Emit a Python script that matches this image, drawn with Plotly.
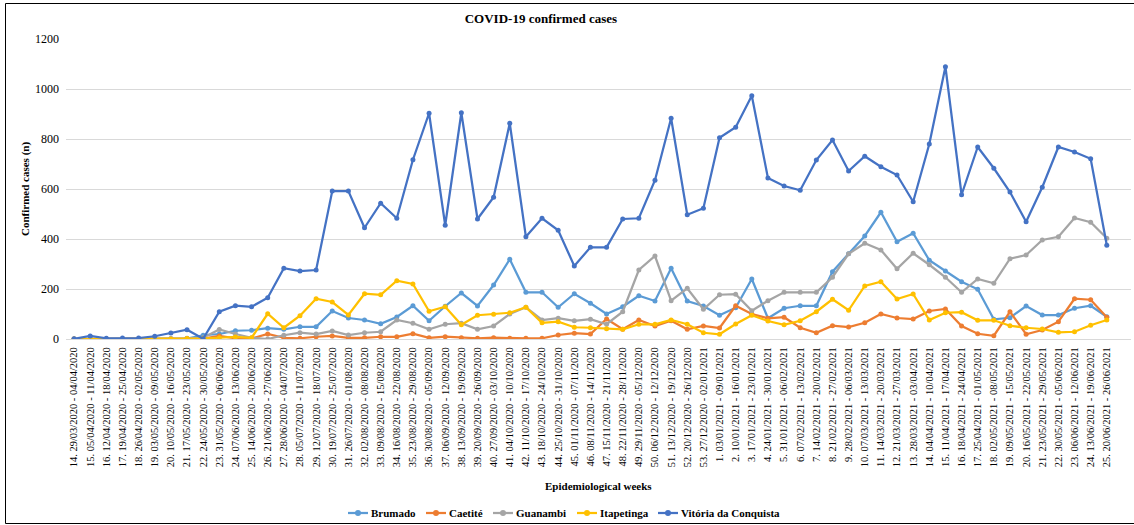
import plotly.graph_objects as go

# Epidemiological weeks (week number and date span)
weeks = [
    "14. 29/03/2020 - 04/04/2020", "15. 05/04/2020 - 11/04/2020", "16. 12/04/2020 - 18/04/2020",
    "17. 19/04/2020 - 25/04/2020", "18. 26/04/2020 - 02/05/2020", "19. 03/05/2020 - 09/05/2020",
    "20. 10/05/2020 - 16/05/2020", "21. 17/05/2020 - 23/05/2020", "22. 24/05/2020 - 30/05/2020",
    "23. 31/05/2020 - 06/06/2020", "24. 07/06/2020 - 13/06/2020", "25. 14/06/2020 - 20/06/2020",
    "26. 21/06/2020 - 27/06/2020", "27. 28/06/2020 - 04/07/2020", "28. 05/07/2020 - 11/07/2020",
    "29. 12/07/2020 - 18/07/2020", "30. 19/07/2020 - 25/07/2020", "31. 26/07/2020 - 01/08/2020",
    "32. 02/08/2020 - 08/08/2020", "33. 09/08/2020 - 15/08/2020", "34. 16/08/2020 - 22/08/2020",
    "35. 23/08/2020 - 29/08/2020", "36. 30/08/2020 - 05/09/2020", "37. 06/09/2020 - 12/09/2020",
    "38. 13/09/2020 - 19/09/2020", "39. 20/09/2020 - 26/09/2020", "40. 27/09/2020 - 03/10/2020",
    "41. 04/10/2020 - 10/10/2020", "42. 11/10/2020 - 17/10/2020", "43. 18/10/2020 - 24/10/2020",
    "44. 25/10/2020 - 31/10/2020", "45. 01/11/2020 - 07/11/2020", "46. 08/11/2020 - 14/11/2020",
    "47. 15/11/2020 - 21/11/2020", "48. 22/11/2020 - 28/11/2020", "49. 29/11/2020 - 05/12/2020",
    "50. 06/12/2020 - 12/12/2020", "51. 13/12/2020 - 19/12/2020", "52. 20/12/2020 - 26/12/2020",
    "53. 27/12/2020 - 02/01/2021", "1. 03/01/2021 - 09/01/2021", "2. 10/01/2021 - 16/01/2021",
    "3. 17/01/2021 - 23/01/2021", "4. 24/01/2021 - 30/01/2021", "5. 31/01/2021 - 06/02/2021",
    "6. 07/02/2021 - 13/02/2021", "7. 14/02/2021 - 20/02/2021", "8. 21/02/2021 - 27/02/2021",
    "9. 28/02/2021 - 06/03/2021", "10. 07/03/2021 - 13/03/2021", "11. 14/03/2021 - 20/03/2021",
    "12. 21/03/2021 - 27/03/2021", "13. 28/03/2021 - 03/04/2021", "14. 04/04/2021 - 10/04/2021",
    "15. 11/04/2021 - 17/04/2021", "16. 18/04/2021 - 24/04/2021", "17. 25/04/2021 - 01/05/2021",
    "18. 02/05/2021 - 08/05/2021", "19. 09/05/2021 - 15/05/2021", "20. 16/05/2021 - 22/05/2021",
    "21. 23/05/2021 - 29/05/2021", "22. 30/05/2021 - 05/06/2021", "23. 06/06/2021 - 12/06/2021",
    "24. 13/06/2021 - 19/06/2021", "25. 20/06/2021 - 26/06/2021",
]

brumado = [0, 0, 0, 0, 0, 0, 1, 2, 15, 20, 33, 35, 43, 39, 49, 49, 112, 84, 76, 61,
           88, 133, 73, 131, 184, 132, 216, 319, 187, 187, 127, 181, 143, 100, 129, 173, 152, 283, 152, 132,
           95, 125, 240, 83, 123, 133, 133, 269, 341, 412, 507, 389, 423, 315, 272, 229, 199, 79, 85, 132,
           96, 96, 123, 133, 89]

caetite = [0, 0, 0, 0, 0, 0, 0, 1, 2, 12, 3, 2, 20, 5, 3, 9, 12, 5, 5, 9,
           9, 21, 5, 9, 5, 3, 5, 3, 3, 3, 16, 23, 20, 80, 39, 76, 52, 73, 39, 52,
           44, 133, 100, 83, 87, 45, 25, 53, 48, 65, 100, 84, 80, 112, 120, 52, 21, 13, 109, 19,
           36, 69, 161, 157, 87]

guanambi = [0, 0, 0, 0, 0, 0, 2, 3, 5, 38, 20, 5, 0, 15, 25, 20, 32, 16, 25, 29,
            76, 63, 39, 59, 63, 39, 52, 100, 127, 76, 83, 73, 79, 59, 109, 276, 332, 153, 203, 119,
            177, 179, 113, 153, 187, 187, 187, 247, 341, 383, 356, 281, 343, 297, 247, 187, 240, 223, 321, 336,
            396, 409, 484, 467, 403]

itapetinga = [0, 0, 0, 0, 0, 0, 0, 2, 3, 5, 8, 5, 101, 45, 93, 161, 148, 96, 181, 177,
              233, 220, 111, 129, 57, 95, 99, 105, 127, 65, 69, 47, 45, 41, 39, 59, 59, 76, 59, 25,
              19, 60, 95, 72, 57, 73, 109, 159, 115, 212, 229, 160, 180, 76, 105, 107, 75, 75, 53, 45,
              40, 27, 29, 55, 76]

vitoria = [1, 12, 3, 4, 4, 11, 24, 37, 1, 109, 133, 129, 165, 283, 272, 276, 592, 592, 445, 543,
           483, 717, 903, 455, 905, 480, 567, 863, 409, 483, 435, 292, 367, 367, 480, 483, 635, 883, 497, 523,
           805, 847, 973, 644, 612, 595, 716, 796, 672, 731, 689, 656, 549, 780, 1089, 577, 768, 683, 588, 469,
           607, 768, 748, 721, 375]

series = [
    ("Brumado", brumado, "#5B9BD5"),
    ("Caetité", caetite, "#ED7D31"),
    ("Guanambi", guanambi, "#A5A5A5"),
    ("Itapetinga", itapetinga, "#FFC000"),
    ("Vitória da Conquista", vitoria, "#4472C4"),
]

SERIF = "Liberation Serif, Times New Roman, serif"

# plot area geometry (px)
W, H = 1134, 525
L, R, T, B = 66, 3, 39, 186
PW, PH = W - L - R, H - T - B


def px_x(p):
    return (p - L) / PW


def px_y(p):
    return (H - B - p) / PH


fig = go.Figure()
for name, values, color in series:
    fig.add_trace(go.Scatter(
        x=weeks, y=values, name=name, mode="lines+markers",
        line=dict(color=color, width=2.25),
        marker=dict(color=color, size=5, symbol="circle"),
        showlegend=False,
    ))

# outer frame of the chart (left, top and bottom edges)
frame = [
    (5.5, 3.5, 1134, 3.5),
    (5.5, 3.5, 5.5, 523.5),
    (5.5, 523.5, 1134, 523.5),
]
shapes = [
    dict(type="line", xref="paper", yref="paper",
         x0=px_x(a), y0=px_y(b), x1=px_x(c), y1=px_y(d),
         line=dict(color="#000000", width=1))
    for a, b, c, d in frame
]

# legend row below the axis title: short line with a dot, then the series name
legend_starts = [348, 426, 493, 577, 658]
legend_y = px_y(513)
annotations = []
for (name, _, color), x0 in zip(series, legend_starts):
    shapes.append(dict(type="line", xref="paper", yref="paper",
                       x0=px_x(x0), x1=px_x(x0 + 20), y0=legend_y, y1=legend_y,
                       line=dict(color=color, width=2.25)))
    shapes.append(dict(type="circle", xref="paper", yref="paper",
                       xsizemode="pixel", ysizemode="pixel",
                       xanchor=px_x(x0 + 10), yanchor=legend_y,
                       x0=-3, x1=3, y0=-3, y1=3,
                       line=dict(color=color, width=0), fillcolor=color))
    annotations.append(dict(text=f"<b>{name}</b>", xref="paper", yref="paper",
                            x=px_x(x0 + 20.5), y=legend_y, xanchor="left", yanchor="middle",
                            showarrow=False, font=dict(family=SERIF, size=11)))

annotations += [
    dict(text="<b>Epidemiological weeks</b>", xref="paper", yref="paper",
         x=0.5, y=px_y(486), xanchor="center", yanchor="middle",
         showarrow=False, font=dict(family=SERIF, size=11)),
    dict(text="<b>Confirmed cases (n)</b>", xref="paper", yref="paper",
         x=px_x(25), y=0.5, xanchor="center", yanchor="middle",
         textangle=-90, showarrow=False, font=dict(family=SERIF, size=11)),
]

fig.update_layout(
    width=W, height=H,
    margin=dict(l=L, r=R, t=T, b=B, autoexpand=False),
    paper_bgcolor="white", plot_bgcolor="white",
    font=dict(family=SERIF, color="#000000", size=11),
    title=dict(text="<b>COVID-19 confirmed cases</b>", x=px_x(574), xanchor="center",
               y=1 - 18 / H, yanchor="middle", font=dict(family=SERIF, size=13)),
    showlegend=False,
    xaxis=dict(type="category", range=[-0.5, 65.5], tickangle=-90, automargin=False,
               tickfont=dict(family=SERIF, size=10.5), showgrid=False,
               showline=True, linecolor="#D9D9D9", linewidth=1,
               ticks="", ticklabelstandoff=3),
    yaxis=dict(range=[0, 1200], tickvals=[0, 200, 400, 600, 800, 1000, 1200], automargin=False,
               tickfont=dict(family=SERIF, size=12), showgrid=True,
               gridcolor="#D9D9D9", gridwidth=1, zeroline=False,
               showline=False, ticks="", ticklabelstandoff=6),
    annotations=annotations,
    shapes=shapes,
)

fig.write_html("out.html")
